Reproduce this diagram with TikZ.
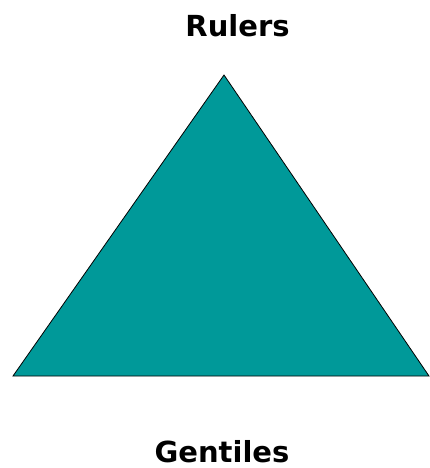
\documentclass[tikz,border=0pt]{standalone}
\usepackage{fontspec}
\setmainfont{DejaVu Sans}
\definecolor{teal1}{RGB}{0,153,153}
\tikzset{lbl/.style={font=\bfseries\fontsize{29}{33}\selectfont, inner sep=0pt, anchor=base}}
\begin{document}
\begin{tikzpicture}[x=1pt,y=-1pt]
\useasboundingbox (0,0) rectangle (429,468);
\coordinate (top) at (224,75);
\coordinate (bl) at (13,376);
\coordinate (br) at (429,376);
\filldraw[fill=teal1, draw=black, line width=0.8pt] (top) -- (br) -- (bl) -- cycle;
\node[lbl] (rulers) at (237.5,37) {Rulers};
\node[lbl] (gentiles) at (222,462) {Gentiles};
\end{tikzpicture}
\end{document}
